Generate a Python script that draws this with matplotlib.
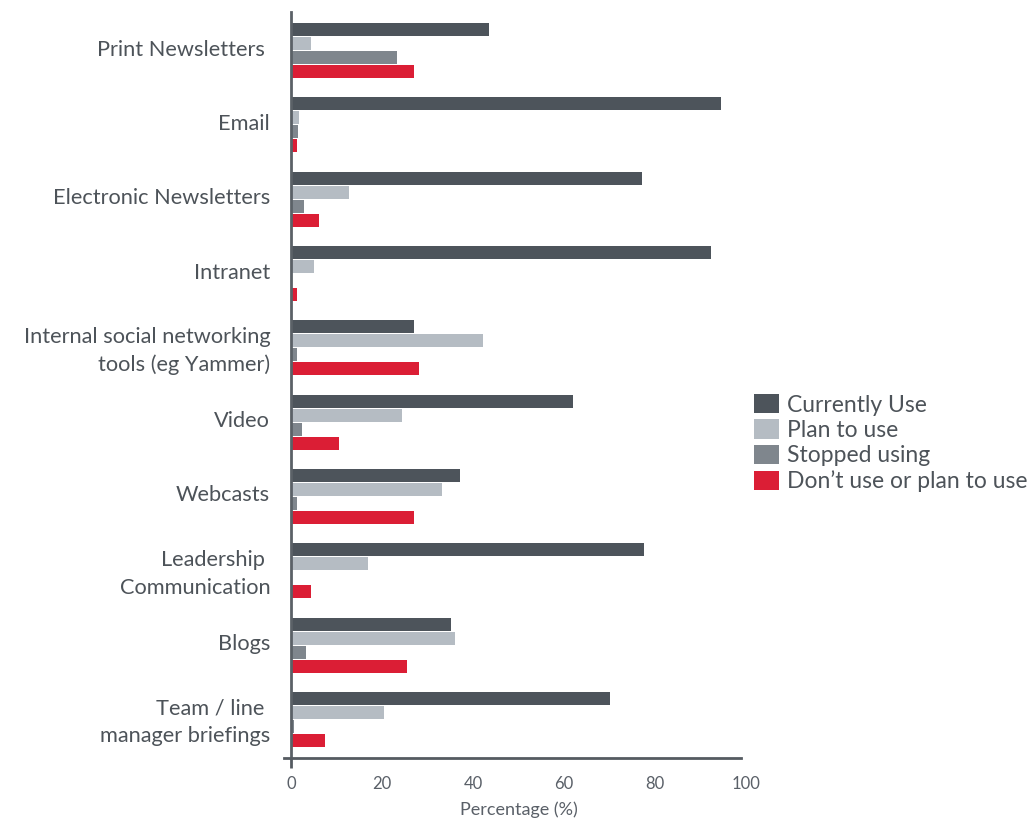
import matplotlib.pyplot as plt
import matplotlib.transforms as mtransforms
import numpy as np

categories = ['Print Newsletters ', 'Email', 'Electronic Newsletters', 'Intranet',
              'Internal social networking\ntools (eg Yammer)', 'Video', 'Webcasts',
              'Leadership \nCommunication', 'Blogs', 'Team / line \nmanager briefings']
currently_use = [43.5, 94.4, 77.2, 92.2, 27.1, 61.9, 37.2, 77.6, 35.2, 70.2]
plan_to_use = [4.4, 1.7, 12.7, 5.0, 42.2, 24.5, 33.2, 17.0, 36.1, 20.5]
stopped_using = [23.4, 1.5, 2.8, 0.0, 1.3, 2.4, 1.3, 0.0, 3.3, 0.7]
dont_use = [27.1, 1.3, 6.1, 1.3, 28.2, 10.5, 27.1, 4.4, 25.4, 7.4]
series_names = ['Currently Use', 'Plan to use', 'Stopped using', 'Don\u2019t use or plan to use']
xticks = [0, 20, 40, 60, 80, 100]

colors = ['#4d545b', '#b5bcc3', '#7f868d', '#db1e35']
text_col = '#4d5359'
plt.rcParams['font.family'] = ['Lato', 'DejaVu Sans']

fig = plt.figure(figsize=(10.29, 8.23), dpi=100)
ax = fig.add_axes([291 / 1029, 1 - 758 / 823, 455 / 1029, 746 / 823])

y = np.arange(len(categories))
step = 0.1884
h = 0.175
all_series = [currently_use, plan_to_use, stopped_using, dont_use]
for k, vals in enumerate(all_series):
    ax.barh(y + (k - 1.5) * step, vals, height=h, color=colors[k], label=series_names[k])

ax.set_xlim(0, 100)
ax.set_ylim(9.52, -0.52)
ax.set_yticks(y)
ax.set_yticklabels(categories, fontsize=15.7, color=text_col, linespacing=1.5)
ax.tick_params(axis='y', length=0, pad=15)
# labels sit a few px above the group centre in the original
shift = mtransforms.ScaledTranslation(0, 3 / 100, fig.dpi_scale_trans)
for lab in ax.get_yticklabels():
    lab.set_transform(lab.get_transform() + shift)
ax.set_xticks(xticks)
ax.set_xticklabels([str(t) for t in xticks], fontsize=12, color='#5a6068')
ax.tick_params(axis='x', length=7, width=2, color='#555b61', pad=6)
for t in ax.xaxis.get_major_ticks()[1:]:
    t.tick1line.set_markersize(0)
ax.set_xlabel('Percentage (%)', fontsize=13, color='#5a6068', labelpad=7)

for s in ['top', 'right']:
    ax.spines[s].set_visible(False)
ax.spines['left'].set_color('#5b6167')
ax.spines['left'].set_linewidth(2)
ax.spines['bottom'].set_color('#555b61')
ax.spines['bottom'].set_linewidth(2)
ax.spines['bottom'].set_bounds(-1.5, 99)

ax.legend(loc='upper left', bbox_to_anchor=(754 / 1029, 1 - 394 / 823),
          bbox_transform=fig.transFigure, frameon=False, fontsize=16.5,
          borderpad=0, borderaxespad=0, handlelength=1.09, handleheight=0.92,
          handletextpad=0.35, labelspacing=0.17, labelcolor=text_col)

fig.savefig('out.png', dpi=100)
